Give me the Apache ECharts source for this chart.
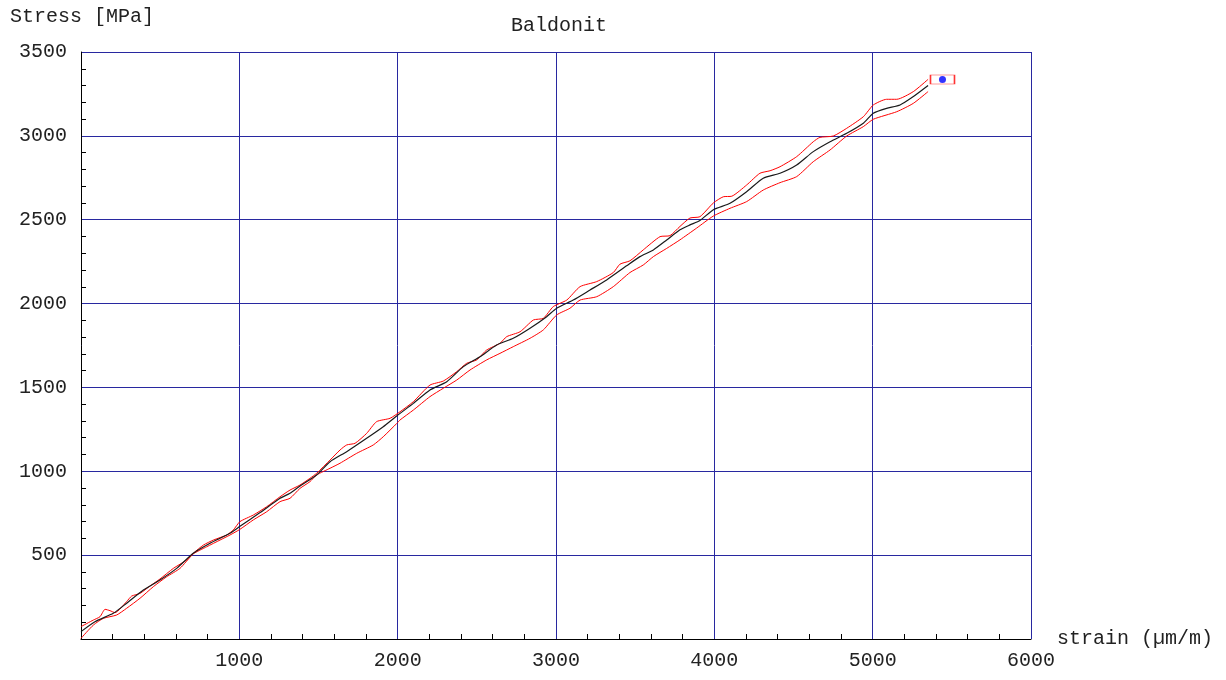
<!DOCTYPE html>
<html>
<head>
<meta charset="utf-8">
<script src="https://cdn.jsdelivr.net/npm/echarts@6/dist/echarts.min.js"></script>
<style>
html,body{margin:0;padding:0;background:#fff;}
#chart{width:1226px;height:680px;}
</style>
</head>
<body>
<div id="chart"></div>
<script>
// Axis ticks
const xTicks = [0, 1000, 2000, 3000, 4000, 5000, 6000];
const yTicks = [0, 500, 1000, 1500, 2000, 2500, 3000, 3500];

// Mean curve (black)
const meanStrain = [0,88,204,288,394,499,604,709,815,941,1004,1131,1257,1320,1383,1488,1573,1678,1804,1909,1994,2099,2204,2310,2415,2520,2625,2730,2836,2941,3004,3109,3215,3320,3446,3530,3615,3699,3783,3846,3909,3994,4099,4204,4309,4415,4520,4625,4731,4836,4941,5004,5088,5173,5257,5350];
const meanStress = [44,103,153,213,292,352,421,511,571,630,672,754,839,869,912,978,1057,1117,1197,1266,1330,1405,1485,1534,1624,1683,1753,1793,1853,1922,1972,2021,2081,2141,2225,2280,2320,2379,2440,2469,2495,2560,2598,2667,2747,2777,2826,2906,2965,3015,3075,3135,3164,3184,3234,3300];

// Upper bound (red)
const upperStrain = [0,78,120,152,183,215,288,320,373,436,499,583,667,709,773,836,920,962,1004,1088,1173,1257,1320,1383,1446,1488,1573,1636,1678,1731,1804,1867,1952,2015,2099,2204,2288,2373,2436,2499,2562,2646,2689,2773,2857,2920,2983,3068,3152,3257,3362,3404,3467,3551,3657,3720,3783,3846,3909,3994,4057,4110,4204,4288,4352,4415,4520,4625,4667,4751,4836,4941,5004,5088,5152,5257,5350];
const upperStress = [74,113,133,177,169,157,223,256,272,316,358,421,471,511,560,590,620,650,700,739,789,848,888,918,958,988,1067,1127,1157,1167,1226,1296,1316,1355,1415,1514,1538,1594,1644,1664,1723,1763,1803,1832,1902,1912,1982,2021,2101,2131,2185,2235,2255,2320,2399,2405,2460,2510,2518,2600,2637,2640,2707,2777,2792,2816,2876,2965,2991,2999,3045,3114,3184,3218,3218,3264,3337];

// Lower bound (red)
const lowerStrain = [0,78,141,225,288,373,457,541,625,709,794,878,941,1004,1088,1173,1257,1320,1383,1446,1488,1573,1636,1741,1846,1909,1994,2015,2099,2204,2288,2373,2457,2562,2646,2730,2836,2920,3004,3088,3152,3257,3362,3467,3551,3615,3699,3783,3888,3994,4099,4204,4309,4415,4520,4625,4731,4836,4941,5004,5152,5257,5350];
const lowerStress = [4,83,123,143,183,243,312,371,421,507,550,590,620,654,710,759,819,839,898,938,978,1018,1048,1107,1157,1206,1285,1306,1365,1445,1495,1544,1604,1664,1703,1743,1793,1843,1932,1972,2021,2041,2101,2185,2230,2280,2329,2380,2450,2522,2568,2608,2677,2721,2757,2846,2916,2999,3055,3099,3144,3194,3264];

// Current point marker
const markerStrain = [5441];
const markerStress = [3336];

const FONT = 'Liberation Mono';
const GRID_BLUE = '#2828a0';
const zip = (a, b) => a.map((v, i) => [v, b[i]]);

const chart = echarts.init(document.getElementById('chart'), null, {renderer: 'canvas'});
chart.setOption({
  animation: false,
  backgroundColor: '#ffffff',
  title: [
    {text: 'Baldonit', left: 506, top: 11,
     textStyle: {fontFamily: FONT, fontSize: 20, fontWeight: 'normal', color: '#222'}},
    {text: 'Stress [MPa]', left: 5, top: 2,
     textStyle: {fontFamily: FONT, fontSize: 20, fontWeight: 'normal', color: '#222'}}
  ],
  grid: {left: 81, right: 195, top: 52, bottom: 41, containLabel: false},
  xAxis: {
    type: 'value',
    min: xTicks[0], max: xTicks[xTicks.length - 1], interval: xTicks[1] - xTicks[0],
    name: 'strain (µm/m)', nameLocation: 'end', nameGap: 26,
    nameTextStyle: {fontFamily: FONT, fontSize: 20, color: '#222', verticalAlign: 'middle'},
    axisLine: {show: true, onZero: false, lineStyle: {color: '#000', width: 1}},
    axisTick: {show: false, inside: true},
    minorTick: {show: true, splitNumber: 5, length: 5, lineStyle: {color: '#000', width: 1}},
    axisLabel: {fontFamily: FONT, fontSize: 20, color: '#222', margin: 12,
      formatter: v => (v === 0 ? '' : String(v))},
    splitLine: {show: true, lineStyle: {color: GRID_BLUE, width: 1}},
    minorSplitLine: {show: false}
  },
  yAxis: {
    type: 'value',
    min: yTicks[0], max: yTicks[yTicks.length - 1], interval: yTicks[1] - yTicks[0],
    axisLine: {show: true, onZero: false, lineStyle: {color: '#000', width: 1}},
    axisTick: {show: false, inside: true},
    minorTick: {show: true, splitNumber: 5, length: 5, lineStyle: {color: '#000', width: 1}},
    axisLabel: {fontFamily: FONT, fontSize: 20, color: '#222', margin: 14,
      formatter: v => (v === 0 ? '' : String(v))},
    splitLine: {show: true, lineStyle: {color: GRID_BLUE, width: 1}}
  },
  series: [
    {type: 'line', data: zip(upperStrain, upperStress), showSymbol: false, symbol: 'none',
     smooth: 0.2, lineStyle: {color: '#ff0000', width: 1}, z: 2},
    {type: 'line', data: zip(lowerStrain, lowerStress), showSymbol: false, symbol: 'none',
     smooth: 0.2, lineStyle: {color: '#ff0000', width: 1}, z: 2},
    {type: 'line', data: zip(meanStrain, meanStress), showSymbol: false, symbol: 'none',
     smooth: 0.2, lineStyle: {color: '#1a1a1a', width: 1.2}, z: 3},
    {type: 'scatter', data: zip(markerStrain, markerStress), symbol: 'rect', symbolSize: [24, 9],
     itemStyle: {color: 'rgba(255,255,255,0)', borderColor: '#ff0000', borderWidth: 1}, z: 4},
    {type: 'scatter', data: zip(markerStrain, markerStress), symbol: 'circle', symbolSize: 7,
     itemStyle: {color: '#0000ff'}, z: 5}
  ]
});
</script>
</body>
</html>
